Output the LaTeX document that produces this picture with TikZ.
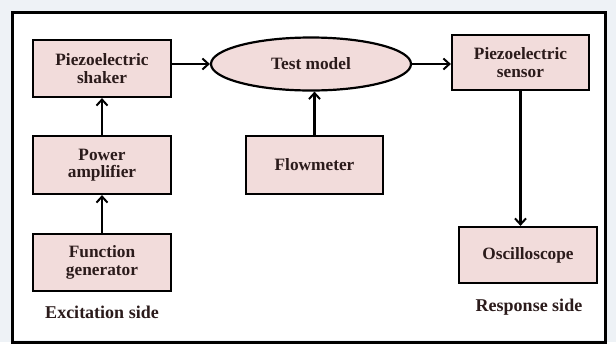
\documentclass[tikz,border=0pt]{standalone}
\usepackage{fontspec}
\setmainfont{Liberation Serif}
\usetikzlibrary{shapes.geometric,arrows.meta}
\definecolor{boxfill}{HTML}{F2DCDB}
\definecolor{txt}{HTML}{2B1B1B}
\definecolor{outerbg}{HTML}{EEF2F6}
\tikzset{
  blk/.style={draw=black, line width=2.2pt, fill=boxfill, minimum width=138pt, minimum height=57pt,
    align=center, font=\fontsize{17.3}{17.5}\selectfont\bfseries, text=txt, inner sep=0pt},
  ell/.style={blk, ellipse, minimum width=200pt, minimum height=53pt},
  arr/.style={line width=2.2pt, -{Straight Barb[length=6pt,width=11pt,line width=2pt]}},
  lbl/.style={font=\fontsize{18}{19}\selectfont\bfseries, text=txt, inner sep=0pt}
}
\begin{document}
\begin{tikzpicture}[x=1pt,y=-1pt]
\fill[outerbg] (0,0) rectangle (616,342);
\fill[white] (12.5,12) rectangle (605,340);
\draw[line width=3pt, black] (12.5,12) rectangle (605,342);
\useasboundingbox (0,0) rectangle (616,342);

\node[blk] (shaker) at (102,68.5) {Piezoelectric\\shaker};
\node[blk, minimum height=58pt] (amp) at (102,165) {Power\\amplifier};
\node[blk] (func) at (102,262.5) {Function\\generator};
\node[ell] (model) at (311,64) {Test model};
\node[blk, minimum width=137pt, minimum height=58pt] (flow) at (314.5,165) {Flowmeter};
\node[blk, minimum width=137pt, minimum height=55pt] (sensor) at (520.5,62.5) {Piezoelectric\\sensor};
\node[blk, minimum height=56pt] (osc) at (528,255) {Oscilloscope};
\node[lbl] (exc) at (102,312) {Excitation side};
\node[lbl] (resp) at (529,307) {Response side};

\draw[arr] (func.north) -- (amp.south);
\draw[arr] (amp.north) -- (shaker.south);
\draw[arr] (model.west -| shaker.east) -- (model.west);
\draw[arr] (flow.north) -- (flow.north |- model.south);
\draw[arr] (model.east) -- (model.east -| sensor.west);
\draw[arr] (sensor.south) -- (sensor.south |- osc.north);
\end{tikzpicture}
\end{document}
